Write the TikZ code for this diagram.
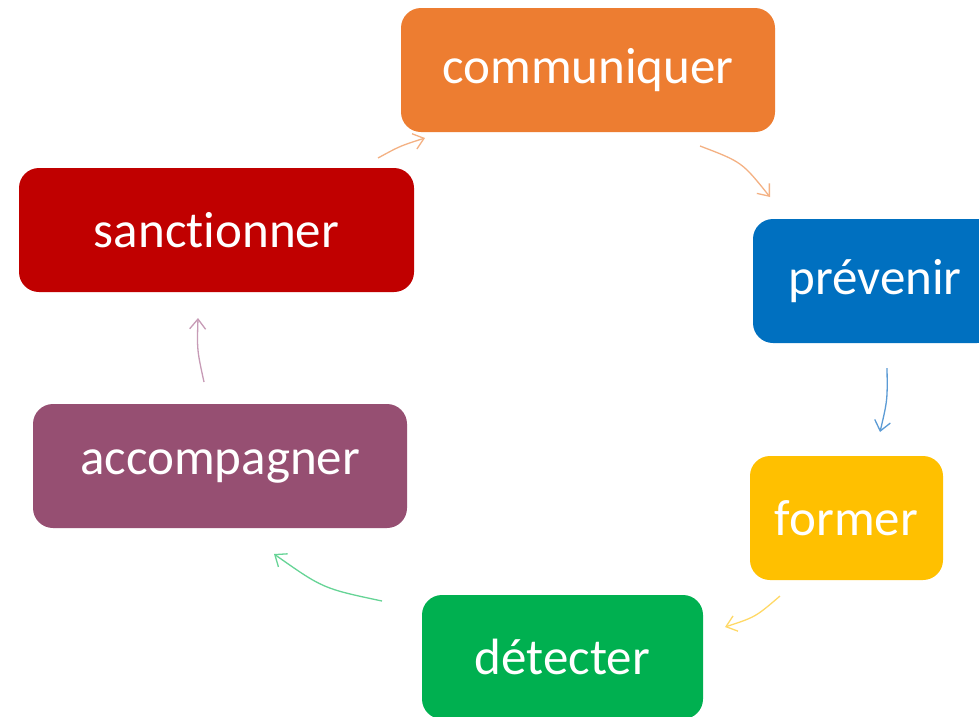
\documentclass[tikz,border=0pt]{standalone}
\usepackage{fontspec}
\setmainfont[Ligatures={NoCommon},RawFeature={-liga}]{Carlito}
\usetikzlibrary{arrows.meta}
\definecolor{cOrange}{HTML}{ED7D31}
\definecolor{cBlue}{HTML}{0070C0}
\definecolor{cYellow}{HTML}{FFC000}
\definecolor{cGreen}{HTML}{00B050}
\definecolor{cPurple}{HTML}{964F72}
\definecolor{cRed}{HTML}{C00000}
\definecolor{aOrange}{HTML}{F4B183}
\definecolor{aBlue}{HTML}{5B9BD5}
\definecolor{aYellow}{HTML}{FFD966}
\definecolor{aGreen}{HTML}{66D496}
\definecolor{aPurple}{HTML}{C79BB6}
\tikzset{
  box/.style={rectangle, rounded corners=20pt, inner sep=0pt, outer sep=0pt,
    minimum height=124pt, text=white, font=\fontsize{51}{60}\selectfont},
  cyc/.style={line width=1.3pt, -{Straight Barb[length=10pt,width=16pt,line width=1.3pt]}}
}
\begin{document}
\begin{tikzpicture}[x=1pt,y=-1pt]
\clip (0,0) rectangle (979,716);
\fill[white] (0,0) rectangle (979,716);
\node[box, fill=cOrange, minimum width=374pt] (comm) at (588,70) {communiquer};
\node[box, fill=cBlue, minimum width=244pt] (prev) at (875,281) {prévenir};
\node[box, fill=cYellow, minimum width=193pt] (form) at (846.5,518) {former};
\node[box, fill=cGreen, minimum width=281pt] (dete) at (562.5,657) {détecter};
\node[box, fill=cPurple, minimum width=374pt] (acco) at (220,466) {accompagner};
\node[box, fill=cRed, minimum width=395pt] (sanc) at (216.5,230) {sanctionner};
\coordinate (s1) at (378,158); \coordinate (e1) at (425,138);
\coordinate (s2) at (700,146); \coordinate (e2) at (770,197);
\coordinate (s3) at (887,368); \coordinate (e3) at (880,432);
\coordinate (s4) at (780,596); \coordinate (e4) at (725,627);
\coordinate (s5) at (382,601); \coordinate (e5) at (274,554);
\coordinate (s6) at (204,382); \coordinate (e6) at (198,318);
\draw[cyc, aOrange] (s1) .. controls (400,146) .. (e1);
\draw[cyc, aOrange] (s2) .. controls (742,162) .. (e2);
\draw[cyc, aBlue] (s3) .. controls (887.5,400) .. (e3);
\draw[cyc, aYellow] (s4) .. controls (755.5,617) .. (e4);
\draw[cyc, aGreen] (s5) .. controls (323,588.5) .. (e5);
\draw[cyc, aPurple] (s6) .. controls (197,350) .. (e6);
\end{tikzpicture}
\end{document}
